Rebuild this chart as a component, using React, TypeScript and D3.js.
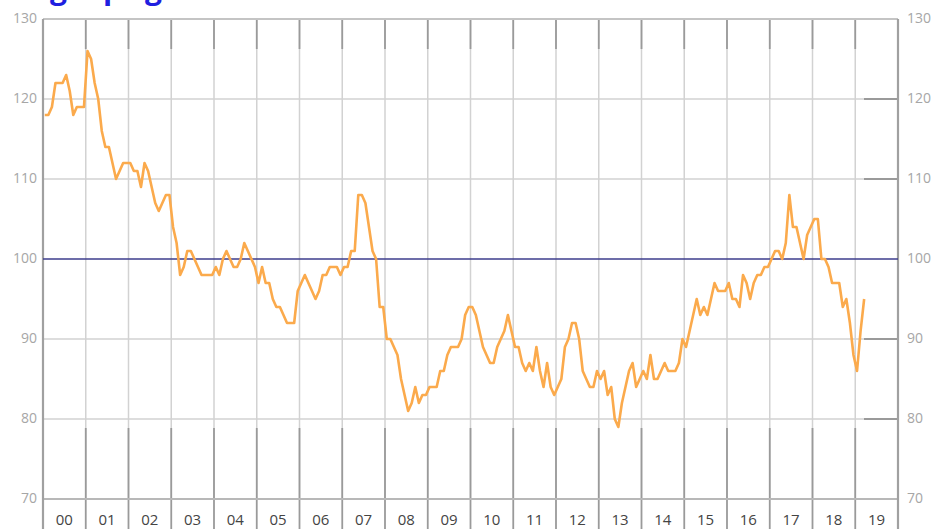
import React from "react";
import * as d3 from "d3";

// monthly index values, Jan 2000 .. Mar 2019
const startYear = 2000;
const indexValues: number[] = [
  118, 118, 119, 122, 122, 122, 123, 121, 118, 119, 119, 119, // 2000
  126, 125, 122, 120, 116, 114, 114, 112, 110, 111, 112, 112, // 2001
  112, 111, 111, 109, 112, 111, 109, 107, 106, 107, 108, 108, // 2002
  104, 102, 98, 99, 101, 101, 100, 99, 98, 98, 98, 98, // 2003
  99, 98, 100, 101, 100, 99, 99, 100, 102, 101, 100, 99, // 2004
  97, 99, 97, 97, 95, 94, 94, 93, 92, 92, 92, 96, // 2005
  97, 98, 97, 96, 95, 96, 98, 98, 99, 99, 99, 98, // 2006
  99, 99, 101, 101, 108, 108, 107, 104, 101, 100, 94, 94, // 2007
  90, 90, 89, 88, 85, 83, 81, 82, 84, 82, 83, 83, // 2008
  84, 84, 84, 86, 86, 88, 89, 89, 89, 90, 93, 94, // 2009
  94, 93, 91, 89, 88, 87, 87, 89, 90, 91, 93, 91, // 2010
  89, 89, 87, 86, 87, 86, 89, 86, 84, 87, 84, 83, // 2011
  84, 85, 89, 90, 92, 92, 90, 86, 85, 84, 84, 86, // 2012
  85, 86, 83, 84, 80, 79, 82, 84, 86, 87, 84, 85, // 2013
  86, 85, 88, 85, 85, 86, 87, 86, 86, 86, 87, 90, // 2014
  89, 91, 93, 95, 93, 94, 93, 95, 97, 96, 96, 96, // 2015
  97, 95, 95, 94, 98, 97, 95, 97, 98, 98, 99, 99, // 2016
  100, 101, 101, 100, 102, 108, 104, 104, 102, 100, 103, 104, // 2017
  105, 105, 100, 100, 99, 97, 97, 97, 94, 95, 92, 88, // 2018
  86, 91, 95, // 2019
];

const yearLabels = ["00", "01", "02", "03", "04", "05", "06", "07", "08", "09",
  "10", "11", "12", "13", "14", "15", "16", "17", "18", "19"];
const yTicks = [70, 80, 90, 100, 110, 120, 130];
const rightTickValues = [80, 90, 110, 120];
const baseline = 100;

const W = 949;
const H = 529;
const left = 43;
const right = 898;
const top = 19;
const bottom = 499;

const App: React.FC = () => {
  const x = d3.scaleLinear().domain([startYear, startYear + yearLabels.length]).range([left, right]);
  const y = d3.scaleLinear().domain([70, 130]).range([bottom, top]);

  const line = d3
    .line<number>()
    .x((_, i) => x(startYear + (i + 0.5) / 12))
    .y((d) => y(d));

  const years = d3.range(startYear, startYear + yearLabels.length + 1);
  const font = "'Open Sans', 'DejaVu Sans', sans-serif";

  return (
    <div style={{ position: "absolute", left: 0, top: 0 }}>
      <svg width={W} height={H} style={{ display: "block", background: "#fff" }}>
        {/* cropped heading, only the descenders show */}
        <g fill="#1f1fe0" fontFamily={font} fontWeight={700} fontSize={30}>
          <text x={50} y={-1}>g</text>
          <text x={103} y={-1}>p</text>
          <text x={145} y={-1}>g</text>
        </g>

        {/* horizontal grid */}
        {yTicks.filter((t) => t > 70 && t < 130 && t !== baseline).map((t) => (
          <line key={"h" + t} x1={left} x2={right} y1={y(t)} y2={y(t)} stroke="#d2d2d2" strokeWidth={1.5} />
        ))}

        {/* vertical grid */}
        {years.slice(1, -1).map((yr) => (
          <line key={"v" + yr} x1={x(yr)} x2={x(yr)} y1={top} y2={bottom} stroke="#d2d2d2" strokeWidth={1.5} />
        ))}

        {/* top/bottom ticks per year */}
        {years.slice(1, -1).map((yr) => (
          <g key={"t" + yr} stroke="#9a9a9a" strokeWidth={1.8}>
            <line x1={x(yr)} x2={x(yr)} y1={top} y2={top + 30} />
            <line x1={x(yr)} x2={x(yr)} y1={bottom - 71} y2={H} />
          </g>
        ))}

        {/* right side ticks */}
        {rightTickValues.map((t) => (
          <line key={"r" + t} x1={right - 34} x2={right} y1={y(t)} y2={y(t)} stroke="#9a9a9a" strokeWidth={1.8} />
        ))}

        {/* frame */}
        <line x1={left} x2={right} y1={top} y2={top} stroke="#c4c4c4" strokeWidth={2} />
        <line x1={left} x2={right} y1={bottom} y2={bottom} stroke="#b8b8b8" strokeWidth={2} />
        <line x1={left} x2={left} y1={top} y2={H} stroke="#a0a0a0" strokeWidth={2.2} />
        <line x1={right} x2={right} y1={top} y2={H} stroke="#a0a0a0" strokeWidth={2.2} />

        {/* 100 reference line */}
        <line x1={left} x2={right} y1={y(baseline)} y2={y(baseline)} stroke="#3c3c8c" strokeWidth={1.5} />

        {/* series */}
        <path d={line(indexValues) ?? ""} fill="none" stroke="#fbaa4c" strokeWidth={2.6} strokeLinejoin="round" />

        {/* y labels */}
        {yTicks.map((t) => (
          <g key={"yl" + t} fill="#a6a6a6" fontFamily={font} fontSize={14}>
            <text x={left - 6} y={y(t)} textAnchor="end" dominantBaseline="middle">{t}</text>
            <text x={right + 9} y={y(t)} textAnchor="start" dominantBaseline="middle">{t}</text>
          </g>
        ))}

        {/* year labels */}
        {yearLabels.map((lab, i) => (
          <text
            key={"xl" + lab}
            x={(x(startYear + i) + x(startYear + i + 1)) / 2}
            y={521}
            textAnchor="middle"
            dominantBaseline="middle"
            fill="#444"
            fontFamily={font}
            fontSize={15}
          >
            {lab}
          </text>
        ))}
      </svg>
    </div>
  );
};

export default App;
